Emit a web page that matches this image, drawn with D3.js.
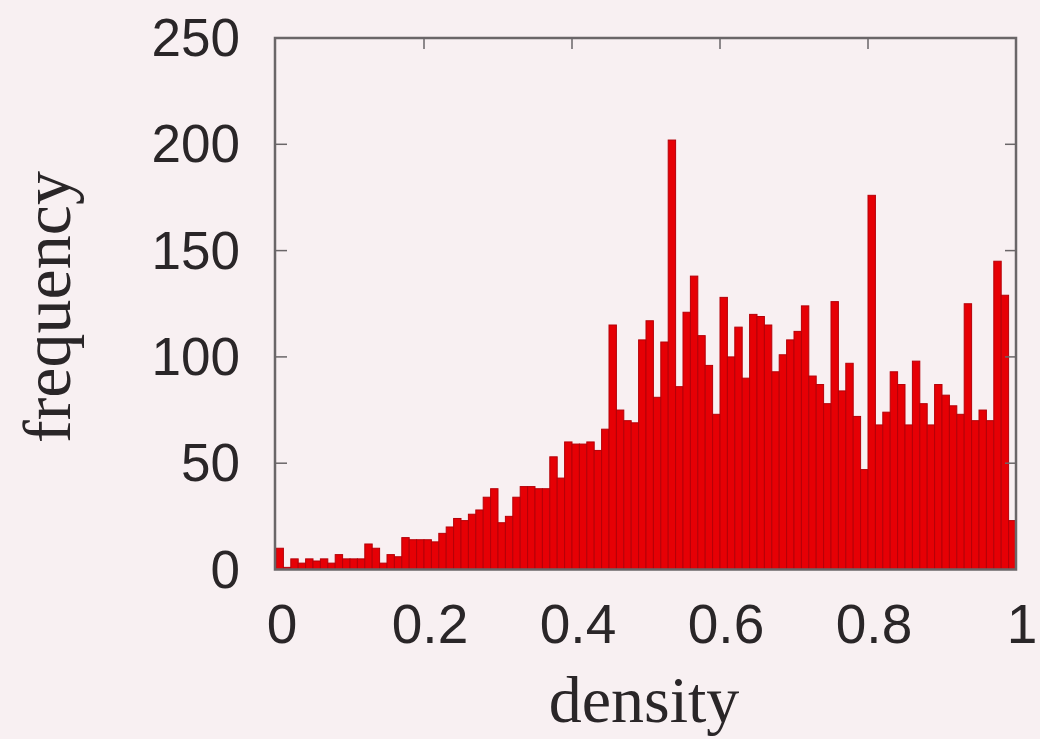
<!DOCTYPE html>
<html>
<head>
<meta charset="utf-8">
<script src="https://cdn.jsdelivr.net/npm/d3@7"></script>
<style>
  html, body { margin: 0; padding: 0; background: #f8f0f2; }
  svg { display: block; }
</style>
</head>
<body>
<svg id="chart" width="1040" height="739"></svg>
<script>
// ---- data ----
const binWidth = 0.01;
const frequency = [
  10, 1, 5, 3, 5, 4, 5, 3, 7, 5,
  5, 5, 12, 10, 3, 7, 6, 15, 14, 14,
  14, 13, 17, 20, 24, 23, 26, 28, 34, 38,
  22, 25, 34, 39, 39, 38, 38, 53, 43, 60,
  59, 59, 60, 56, 66, 115, 75, 70, 69, 108,
  117, 81, 107, 202, 86, 121, 138, 110, 96, 73,
  128, 100, 114, 90, 120, 119, 115, 93, 101, 108,
  112, 124, 91, 87, 78, 126, 84, 97, 72, 47,
  176, 68, 74, 93, 87, 68, 98, 78, 68, 87,
  82, 77, 73, 125, 70, 75, 70, 145, 129, 23
];
const binStart = frequency.map((_, i) => +(i * binWidth).toFixed(2));
const xTicks = [0, 0.2, 0.4, 0.6, 0.8, 1];
const yTicks = [0, 50, 100, 150, 200, 250];
const xLabel = "density";
const yLabel = "frequency";

// ---- layout ----
const svg = d3.select("#chart");
const L = 276, R = 1016, T = 38, B = 569.5;
const x = d3.scaleLinear().domain([0, 1]).range([L, R]);
const y = d3.scaleLinear().domain([0, 250]).range([B, T]);

svg.append("rect").attr("width", 1040).attr("height", 739).attr("fill", "#f8f0f2");

// bars
svg.append("g").selectAll("rect")
  .data(frequency)
  .join("rect")
  .attr("x", (d, i) => x(binStart[i]))
  .attr("width", (d, i) => x(binStart[i] + binWidth) - x(binStart[i]))
  .attr("y", d => y(d))
  .attr("height", d => y(0) - y(d))
  .attr("fill", "#e60005")
  .attr("stroke", "#b50008")
  .attr("stroke-width", 1);

// frame
const frameColor = "#6a6668";
svg.append("rect")
  .attr("x", L - 1).attr("y", T)
  .attr("width", R - L + 1).attr("height", B - T)
  .attr("fill", "none").attr("stroke", frameColor).attr("stroke-width", 2.5);

// inner ticks (left, right, top)
const tickLen = 11;
const tg = svg.append("g").attr("stroke", frameColor).attr("stroke-width", 1.5);
yTicks.slice(1, -1).forEach(v => {
  tg.append("line").attr("x1", L).attr("x2", L + tickLen).attr("y1", y(v)).attr("y2", y(v));
  tg.append("line").attr("x1", R - tickLen).attr("x2", R).attr("y1", y(v)).attr("y2", y(v));
});
xTicks.slice(1, -1).forEach(v => {
  tg.append("line").attr("x1", x(v)).attr("x2", x(v)).attr("y1", T).attr("y2", T + tickLen);
});

// y tick labels
const sans = "'Liberation Sans', Arial, Helvetica, sans-serif";
svg.append("g").selectAll("text")
  .data(yTicks)
  .join("text")
  .attr("x", 240)
  .attr("y", d => y(d) + 18)
  .attr("text-anchor", "end")
  .attr("font-family", sans)
  .attr("font-size", 53)
  .attr("fill", "#2a2628")
  .text(d => d);

// x tick labels
svg.append("g").selectAll("text")
  .data(xTicks)
  .join("text")
  .attr("x", d => x(d) + 6)
  .attr("y", 643)
  .attr("text-anchor", "middle")
  .attr("font-family", sans)
  .attr("font-size", 55)
  .attr("fill", "#2a2628")
  .text(d => d3.format("~g")(d));

// axis titles
const serif = "'Liberation Serif', 'Times New Roman', Times, serif";
svg.append("text")
  .attr("x", 644).attr("y", 722)
  .attr("text-anchor", "middle")
  .attr("font-family", serif)
  .attr("font-size", 66)
  .attr("fill", "#2a2628")
  .text(xLabel);

svg.append("text")
  .attr("transform", "translate(70,307) rotate(-90)")
  .attr("text-anchor", "middle")
  .attr("font-family", serif)
  .attr("font-size", 68)
  .attr("fill", "#2a2628")
  .text(yLabel);
</script>
</body>
</html>
